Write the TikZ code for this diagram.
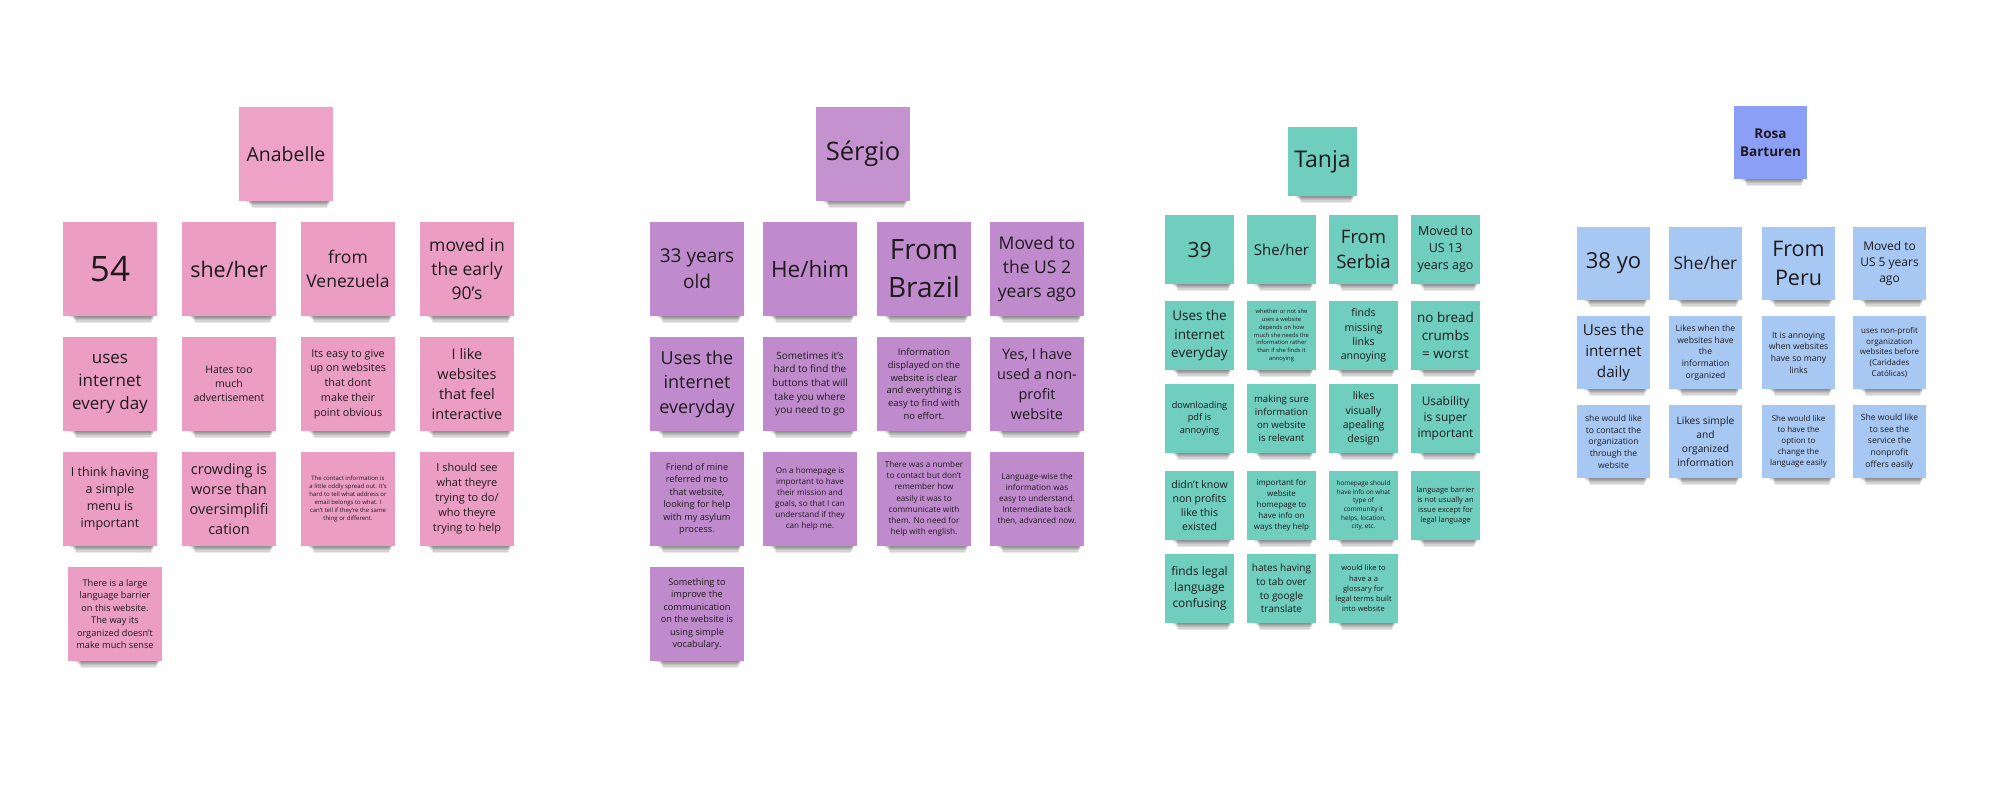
\documentclass[tikz,border=0pt]{standalone}
\usepackage{fontspec}
\setmainfont{Open Sans}
\definecolor{pinkH}{HTML}{EEA2C8}
\definecolor{pinkN}{HTML}{EC9DC4}
\definecolor{purH}{HTML}{C592D0}
\definecolor{purN}{HTML}{C08BCD}
\definecolor{tealN}{HTML}{6FCEBE}
\definecolor{rosaH}{HTML}{8B9FF7}
\definecolor{rosaN}{HTML}{A8C8F4}
\definecolor{ink}{HTML}{1E1A1D}
\tikzset{note/.style={draw=none, inner sep=1pt, align=center, text=ink, anchor=center}}
\newcommand\stick[7]{%
  \foreach \k in {1,...,6}{\fill[black,opacity=0.09] (#2+6+\k*1.2, #3+#4-4) rectangle (#2+#4-2-\k*0.6, #3+#4+\k*1.1);}
  \pgfmathsetmacro\bls{#6*1.36}
  \node[note, fill=#5, minimum size=#4, font=\fontsize{#6}{\bls}\selectfont] (#1) at (#2+#4/2, #3+#4/2) {#7};
}
\begin{document}
\begin{tikzpicture}[x=1pt,y=-1pt]
\useasboundingbox[fill=white] (0,0) rectangle (1994,792);
% ---------------- Anabelle
\stick{a0}{239}{107}{94}{pinkH}{19.5}{Anabelle}
\stick{a11}{63}{222}{94}{pinkN}{35}{54}
\stick{a12}{182}{222}{94}{pinkN}{21.5}{she/her}
\stick{a13}{301}{222}{94}{pinkN}{17.5}{from\\Venezuela}
\stick{a14}{420}{222}{94}{pinkN}{17.5}{moved in\\the early\\90's}
\stick{a21}{63}{337}{94}{pinkN}{17}{uses\\internet\\every day}
\stick{a22}{182}{337}{94}{pinkN}{10.5}{Hates too\\much\\advertisement}
\stick{a23}{301}{337}{94}{pinkN}{10.8}{Its easy to give\\up on websites\\that dont\\make their\\point obvious}
\stick{a24}{420}{337}{94}{pinkN}{14.5}{I like\\websites\\that feel\\interactive}
\stick{a31}{63}{452}{94}{pinkN}{12.5}{I think having\\a simple\\menu is\\important}
\stick{a32}{182}{452}{94}{pinkN}{14.5}{crowding is\\worse than\\oversimplifi\\cation}
\stick{a33}{301}{452}{94}{pinkN}{6}{The contact information is\\a little oddly spread out. It's\\hard to tell what address or\\email belongs to what. I\\can't tell if they're the same\\thing or different.}
\stick{a34}{420}{452}{94}{pinkN}{11}{I should see\\what theyre\\trying to do/\\who theyre\\trying to help}
\stick{a41}{68}{567}{94}{pinkN}{9.2}{There is a large\\language barrier\\on this website.\\The way its\\organized doesn't\\make much sense}
% ---------------- Sergio
\stick{s0}{816}{107}{94}{purH}{25.5}{Sérgio}
\stick{s11}{650}{222}{94}{purN}{19}{33 years\\old}
\stick{s12}{763}{222}{94}{purN}{22.5}{He/him}
\stick{s13}{877}{222}{94}{purN}{28}{From\\Brazil}
\stick{s14}{990}{222}{94}{purN}{17.5}{Moved to\\the US 2\\years ago}
\stick{s21}{650}{337}{94}{purN}{18}{Uses the\\internet\\everyday}
\stick{s22}{763}{337}{94}{purN}{10}{Sometimes it's\\hard to find the\\buttons that will\\take you where\\you need to go}
\stick{s23}{877}{337}{94}{purN}{9.4}{Information\\displayed on the\\website is clear\\and everything is\\easy to find with\\no effort.}
\stick{s24}{990}{337}{94}{purN}{14.5}{Yes, I have\\used a non-\\profit\\website}
\stick{s31}{650}{452}{94}{purN}{9.2}{Friend of mine\\referred me to\\that website,\\looking for help\\with my asylum\\process.}
\stick{s32}{763}{452}{94}{purN}{8.1}{On a homepage is\\important to have\\their mission and\\goals, so that I can\\understand if they\\can help me.}
\stick{s33}{877}{452}{94}{purN}{8.2}{There was a number\\to contact but don't\\remember how\\easily it was to\\communicate with\\them. No need for\\help with english.}
\stick{s34}{990}{452}{94}{purN}{8.2}{Language-wise the\\information was\\easy to understand.\\Intermediate back\\then, advanced now.}
\stick{s41}{650}{567}{94}{purN}{9.2}{Something to\\improve the\\communication\\on the website is\\using simple\\vocabulary.}
% ---------------- Tanja
\stick{t0}{1288}{127}{69}{tealN}{23}{Tanja}
\stick{t11}{1165}{215}{69}{tealN}{21}{39}
\stick{t12}{1247}{215}{69}{tealN}{15}{She/her}
\stick{t13}{1329}{215}{69}{tealN}{18.5}{From\\Serbia}
\stick{t14}{1411}{215}{69}{tealN}{12.5}{Moved to\\US 13\\years ago}
\stick{t21}{1165}{301}{69}{tealN}{13.5}{Uses the\\internet\\everyday}
\stick{t22}{1247}{301}{69}{tealN}{5.8}{whether or not she\\uses a website\\depends on how\\much she needs the\\information rather\\than if she finds it\\annoying}
\stick{t23}{1329}{301}{69}{tealN}{10.6}{finds\\missing\\links\\annoying}
\stick{t24}{1411}{301}{69}{tealN}{13.5}{no bread\\crumbs\\= worst}
\stick{t31}{1165}{384}{69}{tealN}{9.2}{downloading\\pdf is\\annoying}
\stick{t32}{1247}{384}{69}{tealN}{9.6}{making sure\\information\\on website\\is relevant}
\stick{t33}{1329}{384}{69}{tealN}{10.5}{likes\\visually\\apealing\\design}
\stick{t34}{1411}{384}{69}{tealN}{11.9}{Usability\\is super\\important}
\stick{t41}{1165}{471}{69}{tealN}{10.5}{didn't know\\non profits\\like this\\existed}
\stick{t42}{1247}{471}{69}{tealN}{8}{important for\\website\\homepage to\\have info on\\ways they help}
\stick{t43}{1329}{471}{69}{tealN}{6.4}{homepage should\\have info on what\\type of\\community it\\helps, location,\\city, etc.}
\stick{t44}{1411}{471}{69}{tealN}{7.5}{language barrier\\is not usually an\\issue except for\\legal language}
\stick{t51}{1165}{554}{69}{tealN}{11.9}{finds legal\\language\\confusing}
\stick{t52}{1247}{554}{69}{tealN}{10}{hates having\\to tab over\\to google\\translate}
\stick{t53}{1329}{554}{69}{tealN}{7.5}{would like to\\have a a\\glossary for\\legal terms built\\into website}
% ---------------- Rosa
\stick{r0}{1734}{106}{73}{rosaH}{13.5}{\textbf{Rosa}\\\textbf{Barturen}}
\stick{r11}{1577}{227}{73}{rosaN}{22}{38 yo}
\stick{r12}{1669}{227}{73}{rosaN}{17.3}{She/her}
\stick{r13}{1762}{227}{73}{rosaN}{21.5}{From\\Peru}
\stick{r14}{1853}{227}{73}{rosaN}{12}{Moved to\\US 5 years\\ago}
\stick{r21}{1577}{316}{73}{rosaN}{15.2}{Uses the\\internet\\daily}
\stick{r22}{1669}{316}{73}{rosaN}{8.6}{Likes when the\\websites have\\the\\information\\organized}
\stick{r23}{1762}{316}{73}{rosaN}{8.6}{It is annoying\\when websites\\have so many\\links}
\stick{r24}{1853}{316}{73}{rosaN}{8}{uses non-profit\\organization\\websites before\\(Caridades\\Católicas)}
\stick{r31}{1577}{405}{73}{rosaN}{8.6}{she would like\\to contact the\\organization\\through the\\website}
\stick{r32}{1669}{405}{73}{rosaN}{10.2}{Likes simple\\and\\organized\\information}
\stick{r33}{1762}{405}{73}{rosaN}{8}{She would like\\to have the\\option to\\change the\\language easily}
\stick{r34}{1853}{405}{73}{rosaN}{8.6}{She would like\\to see the\\service the\\nonprofit\\offers easily}
\end{tikzpicture}
\end{document}
